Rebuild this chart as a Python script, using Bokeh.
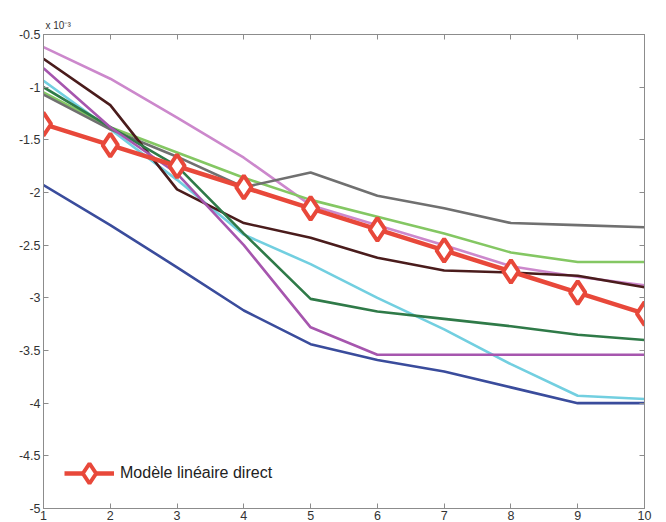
from bokeh.plotting import figure
from bokeh.models import (Legend, LegendItem, LinearAxis, FixedTicker, Range1d,
                          CustomLabelingPolicy)
from bokeh.embed import file_html
from bokeh.resources import INLINE

# ---- data (values in units of 1e-3) ----
steps = [1, 2, 3, 4, 5, 6, 7, 8, 9, 10]

blue = [-1.93, -2.31, -2.71, -3.12, -3.44, -3.59, -3.70, -3.85, -4.00, -4.00]
cyan = [-0.94, -1.40, -1.88, -2.40, -2.68, -3.00, -3.30, -3.63, -3.93, -3.96]
dark_green = [-1.00, -1.38, -1.75, -2.39, -3.01, -3.13, -3.20, -3.27, -3.35, -3.40]
light_green = [-1.05, -1.38, -1.62, -1.86, -2.07, -2.23, -2.39, -2.57, -2.66, -2.66]
gray = [-1.07, -1.40, -1.66, -1.95, -1.81, -2.03, -2.15, -2.29, -2.31, -2.33]
brown = [-0.73, -1.17, -1.97, -2.29, -2.43, -2.62, -2.74, -2.76, -2.79, -2.90]
light_violet = [-0.62, -0.92, -1.29, -1.67, -2.12, -2.31, -2.50, -2.70, -2.80, -2.88]
magenta = [-0.82, -1.38, -1.82, -2.50, -3.28, -3.54, -3.54, -3.54, -3.54, -3.54]
direct_model = [-1.35, -1.55, -1.75, -1.95, -2.15, -2.35, -2.55, -2.75, -2.95, -3.15]

x_ticks = [1, 2, 3, 4, 5, 6, 7, 8, 9, 10]
y_ticks = [-5, -4.5, -4, -3.5, -3, -2.5, -2, -1.5, -1, -0.5]
y_tick_labels = ["-5", "-4.5", "-4", "-3.5", "-3", "-2.5", "-2", "-1.5", "-1", "-0.5"]
legend_label = "Modèle linéaire direct"
scale_label = "x 10\u207b\u00b3"

series = [
    (light_violet, "#cc88cc"),
    (cyan, "#72cfe0"),
    (light_green, "#84c763"),
    (gray, "#707070"),
    (brown, "#4a1c1c"),
    (dark_green, "#2f7a48"),
    (magenta, "#a656ae"),
    (blue, "#3a4c9c"),
]

FONT = "Liberation Sans"
AX = "#8c8c8c"

p = figure(width=658, height=522, output_backend="svg", toolbar_location=None,
           x_range=Range1d(1, 10), y_range=Range1d(-5, -0.5),
           min_border_left=43, min_border_right=14, min_border_top=34, min_border_bottom=10,
           title=scale_label)
p.title.text_font = FONT
p.title.text_font_size = "10px"
p.title.text_font_style = "normal"
p.title.text_color = "#333333"
p.title.align = "left"
p.title.offset = 2
p.title.standoff = 0
p.background_fill_color = "white"
p.border_fill_color = "white"
p.outline_line_color = AX
p.grid.visible = False

for ys, col in series:
    p.line(steps, ys, line_color=col, line_width=2.6)

red = "#e8483a"
r_line = p.line(steps, direct_model, line_color=red, line_width=4.5)
r_pts = p.scatter(steps, direct_model, marker="diamond", size=23, line_color=red,
                  fill_color="white", line_width=4)

hide_all = CustomLabelingPolicy(code="for (const i of indices) { if (false) { yield i } }")

def style_axis(ax, show_labels=True):
    ax.axis_line_color = AX
    ax.major_tick_line_color = AX
    ax.major_tick_in = 5
    ax.major_tick_out = 0
    ax.minor_tick_line_color = None
    ax.major_label_text_font = FONT
    ax.major_label_text_font_size = "12.5px" if show_labels else "1px"
    ax.major_label_text_color = "#333333"
    ax.major_label_standoff = 3 if show_labels else 0
    if not show_labels:
        ax.major_label_policy = hide_all

p.xaxis.ticker = FixedTicker(ticks=x_ticks)
p.yaxis.ticker = FixedTicker(ticks=y_ticks)
p.yaxis.major_label_overrides = {t: l for t, l in zip(y_ticks, y_tick_labels)}
style_axis(p.xaxis[0])
style_axis(p.yaxis[0])
p.xaxis[0].major_label_standoff = 2

top = LinearAxis(ticker=FixedTicker(ticks=x_ticks))
style_axis(top, False)
p.add_layout(top, "above")
right = LinearAxis(ticker=FixedTicker(ticks=y_ticks))
style_axis(right, False)
p.add_layout(right, "right")

legend = Legend(items=[LegendItem(label=legend_label, renderers=[r_line, r_pts])],
                location=(21, 10), margin=0, padding=10,
                glyph_width=50, glyph_height=50, label_standoff=6,
                label_text_font=FONT, label_text_font_size="16px",
                label_text_color="#222222",
                border_line_color=None, background_fill_alpha=0)
p.add_layout(legend)

open("out.html", "w").write(file_html(p, INLINE))
